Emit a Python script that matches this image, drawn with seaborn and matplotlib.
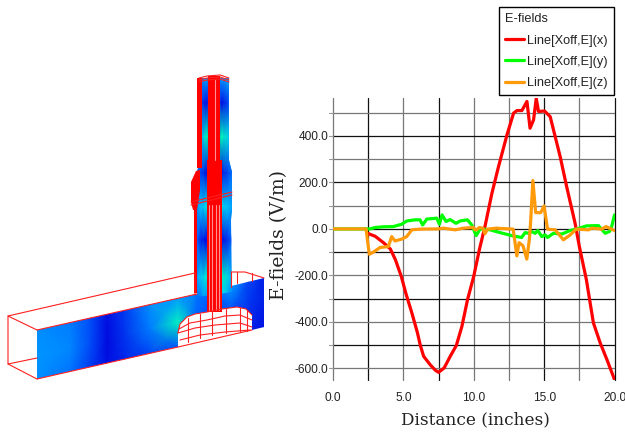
import numpy as np
import pandas as pd
import matplotlib
matplotlib.use('Agg')
import matplotlib.pyplot as plt
from matplotlib.colors import LinearSegmentedColormap
from matplotlib.patches import Polygon
import seaborn as sns

# Curvas E-field
x_red = [2.5, 3.0, 3.6, 4.07, 4.43, 4.85, 5.2, 5.6, 6.0, 6.2, 6.44, 6.9, 7.27, 7.5, 7.9, 8.33, 8.76, 9.16, 9.56,
         10.0, 10.4, 10.8, 11.29, 11.76, 12.36, 12.83, 13.07, 13.42, 13.78, 14.0, 14.25, 14.44, 14.6, 15.03,
         15.43, 16.14, 16.6, 17.2, 17.5, 18.0, 18.5, 18.98, 19.46, 20.0]
y_red = [-20, -32, -60, -86, -132, -204, -282, -361, -447, -500, -548, -584, -608, -617, -598, -548, -502, -419, -304,
         -204, -89, 11, 153, 268, 404, 498, 509, 509, 548, 433, 469, 562, 505, 507,
         483, 311, 182, 24, -75, -218, -404, -490, -562, -648]
x_green = [0, 2.5, 2.63, 3.0, 3.6, 4.29, 4.88, 5.24, 5.83, 6.18, 6.37, 6.66, 7.37, 7.56, 7.75, 8.03, 8.32, 8.74,
           9.03, 9.55, 9.86, 10.17, 10.45, 11.16, 11.87, 12.7, 13.4, 13.65, 13.9, 14.1, 14.36, 14.55, 14.83,
           15.07, 15.24, 15.66, 16.26, 16.85, 17.3, 18.0, 18.86, 19.34, 19.65, 19.8, 20.0]
y_green = [0, 0, 0, 6, 9, 10, 20, 34, 39, 39, 17, 42, 46, 20, 60, 32, 40, 24,
           34, 39, 17, -29, 0, -4, -16, -29, -37, -16, -19, -11, -19, -7, -33,
           -26, -37, -19, -22, -7, -1, 13, 14, -19, -11, 10, 60]
x_orange = [0, 2.35, 2.46, 2.58, 2.87, 3.34, 3.93, 4.17, 4.4, 4.88, 5.24, 5.6, 6.18, 7.5, 7.84, 8.67, 9.27, 9.98,
            10.1, 10.2, 10.4, 10.64, 10.8, 10.97, 11.6, 12.8, 12.94, 13.06, 13.22, 13.5, 13.77, 13.96, 14.05,
            14.2, 14.4, 14.76, 15.0, 15.24, 15.78, 16.37, 16.85, 17.27, 18.15, 18.4, 19.1, 19.4, 20.0]
y_orange = [0, 0, -54, -109, -100, -80, -76, -33, -52, -44, -33, -4, -1, 0, 3, -4, 3, 6,
            -4, -4, 6, 3, -21, -1, 3, -1, -62, -116, -59, -73, -130, -40, 39,
            208, 70, 70, 99, -1, -4, -47, -26, -1, -4, 3, -1, 10, -7]

x_ticks = [0, 5, 10, 15, 20]
x_grid = [0, 2.5, 5, 7.5, 10, 12.5, 15, 17.5, 20]
x_grid_cor = ['#777777', '#111111', '#777777', '#111111', '#777777', '#777777', '#111111', '#777777', '#111111']
y_ticks = [-600, -400, -200, 0, 200, 400]
y_grid = [-600, -500, -400, -300, -200, -100, 0, 100, 200, 300, 400, 500]
y_grid_cor = ['#777777', '#111111', '#777777', '#111111', '#777777', '#111111',
              '#111111', '#777777', '#111111', '#777777', '#111111', '#777777']

# Modelo 3D (coordenadas em pixels da figura)
guia_x = [37, 70, 90, 107, 125, 150, 178, 197, 215, 231, 248, 264]
guia_campo = np.array([
    [0.36, 0.32, 0.20, 0.04, 0.16, 0.36, 0.40, 0.30, 0.30, 0.40, 0.18, 0.08],
    [0.38, 0.34, 0.20, 0.03, 0.14, 0.32, 0.75, 0.25, 0.15, 0.20, 0.14, 0.08],
    [0.36, 0.30, 0.16, 0.04, 0.10, 0.18, 0.22, 0.15, 0.12, 0.12, 0.08, 0.05],
])
guia_forma = [(37, 330), (197, 294), (231, 286), (264, 278), (264, 327), (252, 330), (252, 315), (246, 309),
              (237, 307), (222, 309), (207, 312), (195, 314), (187, 317), (180, 324), (178, 333), (178, 347), (37, 379)]
coluna_y = [78, 103, 137, 173, 207, 240, 277, 300]
coluna_x = [197, 203, 208, 220, 224, 232]
coluna_campo = np.array([
    [0.42, 0.40, 0.40, 0.40, 0.40, 0.42],
    [0.30, 0.08, 0.05, 0.05, 0.06, 0.30],
    [0.42, 0.60, 0.80, 0.80, 0.72, 0.45],
    [0.28, 0.10, 0.05, 0.05, 0.10, 0.28],
    [0.40, 0.55, 0.65, 0.65, 0.55, 0.42],
    [0.22, 0.05, 0.05, 0.05, 0.05, 0.25],
    [0.42, 0.60, 0.70, 0.75, 0.72, 0.45],
    [0.25, 0.35, 0.40, 0.40, 0.50, 0.30],
])
coluna_forma = [(200, 78), (229, 78), (229, 160), (232, 172), (232, 212), (231, 220), (232, 292), (197, 297),
                (197, 210), (197, 172), (200, 160)]

caixa_linhas = [
    [(37, 330), (8, 316), (8, 364), (37, 379)],
    [(8, 364), (37, 358)],
    [(8, 316), (195, 273), (195, 295)],
    [(37, 330), (197, 294)],
    [(37, 379), (178, 347), (252, 330)],
    [(231, 272), (245, 272), (264, 278)],
    [(231, 272), (231, 287)],
    [(237, 272), (237, 283)],
    [(252, 273), (252, 281)],
    [(191, 202), (232, 192)],
    [(191, 205), (232, 195)],
    [(199, 78), (207, 76), (220, 75), (229, 78)],
    [(199, 80), (207, 78), (220, 77), (229, 80)],
    [(199, 82), (207, 80), (220, 79), (229, 82)],
]
arco_linhas = [
    [(178, 333), (180, 324), (187, 317), (195, 314), (207, 312), (222, 309), (237, 307), (246, 309), (252, 315)],
    [(179, 329), (190, 323), (207, 320), (225, 316), (240, 315), (252, 320)],
    [(178, 333), (195, 328), (215, 325), (240, 323), (252, 327)],
    [(180, 340), (200, 335), (225, 332), (250, 330)],
    [(188, 318), (188, 342)], [(200, 314), (200, 338)], [(212, 311), (212, 335)],
    [(226, 309), (226, 333)], [(240, 308), (240, 332)], [(247, 310), (247, 331)],
]
# blocos vermelhos do condutor: x0, x1, y0, y1
blocos = [(197, 202, 78, 168), (208, 220, 76, 160), (207, 222, 160, 202), (194, 197, 203, 293), (207, 222, 202, 312)]
colar_forma = [(191, 182), (196, 171), (200, 170), (200, 190), (197, 210), (193, 210), (191, 202)]
rosa_x = [214.5, 209, 212, 216, 219]
rosa_y0 = [80, 205, 205, 205, 205]
rosa_y1 = [160, 310, 310, 310, 310]

sns.set_theme(style="white")
plt.rcParams['font.family'] = ['Liberation Sans', 'DejaVu Sans']
plt.rcParams['figure.facecolor'] = 'white'

fig = plt.figure(figsize=(6.25, 4.32), dpi=100)

# Modelo à esquerda
ax3d = fig.add_axes([0, 0, 1, 1])
ax3d.set_xlim(0, 625)
ax3d.set_ylim(432, 0)
ax3d.axis('off')
campo_cmap = LinearSegmentedColormap.from_list('campo', ['#0000dc', '#0060ff', '#00c8ff', '#00f0c0', '#00ff60'])

gx = np.array(guia_x, dtype=float)
topo = 330 - (gx - 37) * 0.229
gX = np.vstack([gx, gx, gx])
gY = np.vstack([topo, topo + 25, topo + 50])
m1 = ax3d.pcolormesh(gX, gY, guia_campo, cmap=campo_cmap, vmin=0, vmax=1, shading='gouraud', zorder=1)
m1.set_clip_path(Polygon(guia_forma, transform=ax3d.transData))

cX, cY = np.meshgrid(coluna_x, coluna_y)
m2 = ax3d.pcolormesh(cX, cY, coluna_campo, cmap=campo_cmap, vmin=0, vmax=1, shading='gouraud', zorder=2)
m2.set_clip_path(Polygon(coluna_forma, transform=ax3d.transData))

for x0, x1, y0, y1 in blocos:
    ax3d.fill([x0, x1, x1, x0], [y0, y0, y1, y1], color='#ff0000', lw=0, zorder=3)
ax3d.add_patch(Polygon(colar_forma, closed=True, color='#ff0000', lw=0, zorder=3))
for xr, y0, y1 in zip(rosa_x, rosa_y0, rosa_y1):
    ax3d.plot([xr, xr], [y0, y1], color='#ff9090', lw=0.8, zorder=4)
for linha in caixa_linhas + arco_linhas:
    xs, ys = zip(*linha)
    ax3d.plot(xs, ys, color='#ff2020', lw=0.8, zorder=4)

# Gráfico à direita
ax = fig.add_axes([333 / 625, 1 - 380 / 432, 281.5 / 625, 282 / 432], facecolor='none')

df_red = pd.DataFrame({'x': x_red, 'y': y_red})
df_green = pd.DataFrame({'x': x_green, 'y': y_green})
df_orange = pd.DataFrame({'x': x_orange, 'y': y_orange})
sns.lineplot(data=df_red, x='x', y='y', color='#ff0000', linewidth=2.3, sort=False, errorbar=None,
             estimator=None, label='Line[Xoff,E](x)', ax=ax, zorder=3)
sns.lineplot(data=df_green, x='x', y='y', color='#00ff00', linewidth=2.3, sort=False, errorbar=None,
             estimator=None, label='Line[Xoff,E](y)', ax=ax, zorder=4)
sns.lineplot(data=df_orange, x='x', y='y', color='#ff9a0a', linewidth=2.3, sort=False, errorbar=None,
             estimator=None, label='Line[Xoff,E](z)', ax=ax, zorder=5)

ax.set_xlim(0, 20)
ax.set_ylim(-650, 563)
ax.set_xticks(x_ticks)
ax.set_xticklabels([f'{v:.1f}' for v in x_ticks], fontsize=8.6)
ax.set_yticks(y_ticks)
ax.set_yticklabels([f'{v:.1f}' for v in y_ticks], fontsize=8.6)
ax.tick_params(axis='x', length=0, pad=8.5, colors='#222222')
ax.tick_params(axis='y', length=0, pad=3.5, colors='#222222')
for v, c in zip(x_grid, x_grid_cor):
    ax.axvline(v, color=c, lw=0.9, zorder=1, clip_on=False)
for v, c in zip(y_grid, y_grid_cor):
    ax.axhline(v, color=c, lw=0.9, zorder=1)
    ax.plot([-0.3, 0], [v, v], color='#999999', lw=0.8, clip_on=False, zorder=1)
for s in ax.spines.values():
    s.set_visible(False)

ax.set_xlabel('Distance (inches)', family='DejaVu Serif', fontsize=12.2, color='#222222')
ax.set_ylabel('E-fields (V/m)', family='DejaVu Serif', fontsize=13.5, color='#222222')
ax.xaxis.set_label_coords(0.505, -0.11)
ax.yaxis.set_label_coords(-0.16, 0.514)

leg = ax.legend(loc='upper left', bbox_to_anchor=(499 / 625, 1 - 7 / 432), bbox_transform=fig.transFigure,
                title='E-fields', fontsize=9.2, title_fontsize=9.2, alignment='left', fancybox=False, framealpha=1,
                edgecolor='black', borderaxespad=0, borderpad=0.5, labelspacing=0.72, handlelength=1.45,
                handletextpad=0.25)
leg.get_frame().set_linewidth(1.0)
leg.set_zorder(10)
for t in leg.get_texts():
    t.set_color('#222222')
leg.get_title().set_color('#222222')

fig.savefig('out.png', dpi=100)
plt.close(fig)
